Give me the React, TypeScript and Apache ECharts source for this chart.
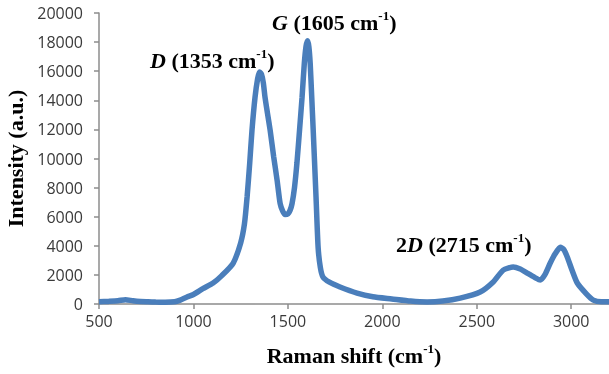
import React, { useEffect, useRef } from "react";
import * as echarts from "echarts";

const ramanShift = [
  500, 550, 600, 640, 680, 720, 760, 800, 850, 900, 930, 966, 1000, 1050, 1104, 1150, 1210, 1250,
  1270, 1284, 1298, 1310, 1326, 1340, 1350, 1360, 1370, 1379, 1392, 1406, 1425, 1443, 1459, 1472,
  1485, 1500, 1512, 1522, 1535, 1548, 1562, 1575, 1587, 1596, 1604, 1611, 1618, 1626, 1634, 1649,
  1660, 1672, 1686, 1720, 1776, 1866, 1950, 2050, 2150, 2237, 2320, 2412, 2518,
  2587, 2640, 2693, 2730, 2767, 2810, 2836, 2860, 2889, 2915, 2942, 2960, 2979, 3005, 3032, 3080, 3117, 3160, 3200,
];
const intensity = [
  150, 180, 220, 300, 220, 170, 150, 130, 120, 150, 270, 480, 650, 1050, 1440, 1950, 2800, 4200,
  5500, 7350, 9700, 11950, 14200, 15500, 15950, 15800, 15200, 14200, 13100, 11950, 10100, 8500, 6900, 6400,
  6150, 6200, 6450, 6900, 8000, 9700, 12000, 14200, 16550, 17700, 18100, 17700, 16550, 14300, 11950, 7350,
  3900, 2500, 1850, 1500, 1170, 750, 500, 350, 200, 140, 200, 400, 820,
  1510, 2330, 2540, 2400, 2130, 1800, 1650, 2000, 2820, 3450, 3900, 3750, 3230, 2300, 1440, 700, 270, 150, 150,
];
const xTicks = { min: 500, max: 3200, interval: 500 };
const yTicks = { min: 0, max: 20000, interval: 2000 };
const peakLabels = [
  { letter: "D", prefix: "", wave: "1353", left: 150, top: 60 },
  { letter: "G", prefix: "", wave: "1605", left: 272, top: 22 },
  { letter: "D", prefix: "2", wave: "2715", left: 396, top: 244 },
];

const SERIF = "'Liberation Serif', 'Times New Roman', serif";

export default function App() {
  const ref = useRef<HTMLDivElement>(null);
  useEffect(() => {
    if (!ref.current) return;
    const chart = echarts.init(ref.current, null, { renderer: "svg" });
    const data = ramanShift.map((x, i) => [x, intensity[i]]);
    const rich = {
      n: { fontFamily: SERIF, fontWeight: "bold", fontSize: 22, color: "#000", lineHeight: 26 },
      i: { fontFamily: SERIF, fontWeight: "bold", fontStyle: "italic", fontSize: 22, color: "#000", lineHeight: 26 },
      s: { fontFamily: SERIF, fontWeight: "bold", fontSize: 13, color: "#000", verticalAlign: "top", lineHeight: 26, padding: [0, 0, 7, 0] },
    };
    chart.setOption({
      animation: false,
      grid: { left: 99, right: 0, top: 13, bottom: 70, containLabel: false, outerBoundsMode: "none" },
      xAxis: {
        type: "value",
        min: xTicks.min,
        max: xTicks.max,
        interval: xTicks.interval,
        name: "{n|Raman shift (cm}{s|-1}{n|)}",
        nameLocation: "middle",
        nameGap: 38,
        nameTextStyle: { rich },
        axisLine: { show: true, onZero: false, lineStyle: { color: "#8c8c8c", width: 1.5 } },
        axisTick: { show: true, length: 5, lineStyle: { color: "#8c8c8c", width: 1.5 } },
        axisLabel: {
          fontFamily: "'Open Sans', sans-serif", fontSize: 16, color: "#3a3a3a", margin: 9, showMaxLabel: false,
          formatter: (v: number) => String(v),
        },
        splitLine: { show: false },
      },
      yAxis: {
        type: "value",
        min: yTicks.min,
        max: yTicks.max,
        interval: yTicks.interval,
        name: "Intensity (a.u.)",
        nameLocation: "middle",
        nameGap: 71,
        nameTextStyle: { fontFamily: SERIF, fontWeight: "bold", fontSize: 22, color: "#000" },
        axisLine: { show: true, lineStyle: { color: "#8c8c8c", width: 1.5 } },
        axisTick: { show: true, length: 5, lineStyle: { color: "#8c8c8c", width: 1.5 } },
        axisLabel: {
          fontFamily: "'Open Sans', sans-serif", fontSize: 16, color: "#3a3a3a", margin: 16,
          formatter: (v: number) => String(v),
        },
        splitLine: { show: false },
      },
      graphic: peakLabels.map((p) => ({
        type: "text",
        left: p.left,
        top: p.top - 13,
        style: {
          text: `{n|${p.prefix}}{i|${p.letter}}{n| (${p.wave} cm}{s|-1}{n|)}`,
          rich,
        },
      })),
      series: [
        {
          type: "line",
          data,
          showSymbol: false,
          smooth: 0.2,
          lineStyle: { color: "#4A7EBB", width: 5.5 },
          itemStyle: { color: "#4A7EBB" },
        },
      ],
    });
    return () => chart.dispose();
  }, []);
  return <div ref={ref} style={{ position: "fixed", left: 0, top: 0, width: 609, height: 374 }} />;
}
